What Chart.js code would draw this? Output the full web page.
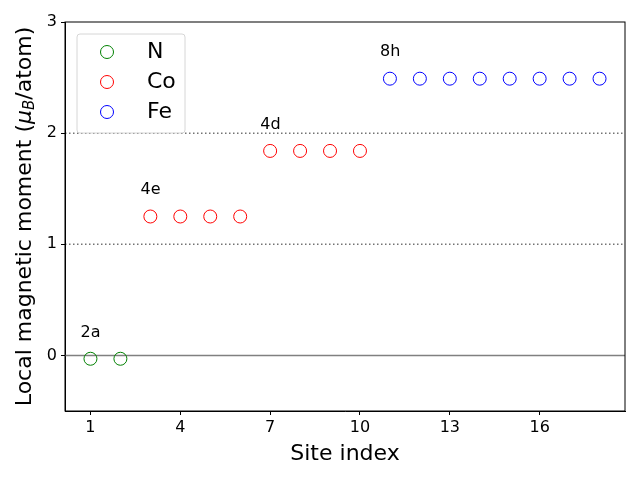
<!DOCTYPE html>
<html lang="en">
<head>
    <meta charset="UTF-8">
    <title>Local magnetic moment</title>
    <script src="https://cdn.jsdelivr.net/npm/chart.js@4.4.0/dist/chart.umd.min.js"></script>
    <style>
        body { margin: 0; background: #fff; }
    </style>
</head>
<body>
    <canvas id="chart" width="640" height="480"></canvas>
    <script>
        // sites and moments
        const nSites = [1, 2];
        const nMoments = [-0.03, -0.03];
        const coSites = [3, 4, 5, 6, 7, 8, 9, 10];
        const coMoments = [1.25, 1.25, 1.25, 1.25, 1.84, 1.84, 1.84, 1.84];
        const feSites = [11, 12, 13, 14, 15, 16, 17, 18];
        const feMoments = [2.49, 2.49, 2.49, 2.49, 2.49, 2.49, 2.49, 2.49];

        const xTicks = [1, 4, 7, 10, 13, 16];
        const yTicks = [0, 1, 2, 3];

        // wyckoff labels (left/bottom corner in data units)
        const siteLabels = ['2a', '4e', '4d', '8h'];
        const siteLabelX = [0.67, 2.67, 6.67, 10.67];
        const siteLabelY = [0.17, 1.45, 2.04, 2.69];

        const dottedLines = [1, 2];
        const solidLines = [0];

        const font = "'DejaVu Sans', sans-serif";

        function pts(xs, ys) {
            return xs.map((x, i) => ({ x: x, y: ys[i] }));
        }

        function ds(label, xs, ys, color) {
            return {
                label: label,
                data: pts(xs, ys),
                borderColor: color,
                backgroundColor: 'rgba(0,0,0,0)',
                pointRadius: 6.5,
                pointBorderWidth: 1,
                showLine: false
            };
        }

        const extras = {
            id: 'extras',
            beforeDatasetsDraw(chart) {
                const c = chart.ctx, a = chart.chartArea;
                const ys = chart.scales.y;
                c.save();
                c.lineWidth = 1.5;
                c.strokeStyle = 'rgba(0,0,0,0.55)';
                c.setLineDash([1.5, 2.5]);
                dottedLines.forEach(v => {
                    const y = ys.getPixelForValue(v);
                    c.beginPath(); c.moveTo(a.left, y); c.lineTo(a.right, y); c.stroke();
                });
                c.setLineDash([]);
                c.strokeStyle = 'gray';
                solidLines.forEach(v => {
                    const y = ys.getPixelForValue(v);
                    c.beginPath(); c.moveTo(a.left, y); c.lineTo(a.right, y); c.stroke();
                });
                c.restore();
            },
            afterDraw(chart) {
                const c = chart.ctx, a = chart.chartArea;
                const xs = chart.scales.x, ys = chart.scales.y;
                c.save();
                // frame
                c.strokeStyle = '#000';
                c.lineWidth = 1;
                c.strokeRect(a.left, a.top, a.right - a.left, a.bottom - a.top);

                // site labels
                c.fillStyle = '#000';
                c.font = '16px ' + font;
                c.textAlign = 'left';
                c.textBaseline = 'alphabetic';
                siteLabels.forEach((t, i) => {
                    c.fillText(t, xs.getPixelForValue(siteLabelX[i]), ys.getPixelForValue(siteLabelY[i]));
                });

                // x title
                c.font = '22px ' + font;
                c.textAlign = 'center';
                c.textBaseline = 'middle';
                c.fillText('Site index', (a.left + a.right) / 2, 454);

                // y title with subscript
                c.translate(25, (a.top + a.bottom) / 2);
                c.rotate(-Math.PI / 2);
                const p1 = 'Local magnetic moment (', p2 = 'μ', p3 = 'B', p4 = '/atom)';
                c.font = '22px ' + font;
                const w1 = c.measureText(p1).width;
                c.font = 'italic 22px ' + font;
                const w2 = c.measureText(p2).width;
                c.font = 'italic 15px ' + font;
                const w3 = c.measureText(p3).width;
                c.font = '22px ' + font;
                const w4 = c.measureText(p4).width;
                let x = -(w1 + w2 + w3 + w4) / 2;
                c.textAlign = 'left';
                c.textBaseline = 'middle';
                c.fillText(p1, x, 0); x += w1;
                c.font = 'italic 22px ' + font;
                c.fillText(p2, x, 0); x += w2;
                c.font = 'italic 15px ' + font;
                c.fillText(p3, x, 5); x += w3;
                c.font = '22px ' + font;
                c.fillText(p4, x, 0);
                c.restore();

                // legend
                c.save();
                const bx = 77, by = 34, bw = 108, bh = 99;
                c.fillStyle = 'rgba(255,255,255,0.8)';
                c.strokeStyle = '#d6d6d6';
                c.lineWidth = 1;
                c.beginPath();
                c.roundRect(bx, by, bw, bh, 3);
                c.fill(); c.stroke();
                c.font = '22px ' + font;
                c.textAlign = 'left';
                c.textBaseline = 'middle';
                chart.data.datasets.forEach((d, i) => {
                    const yy = 52 + i * 30;
                    c.strokeStyle = d.borderColor;
                    c.beginPath();
                    c.arc(107, yy, 6.5, 0, Math.PI * 2);
                    c.stroke();
                    c.fillStyle = '#000';
                    c.fillText(d.label, 147, yy);
                });
                c.restore();
            }
        };

        new Chart(document.getElementById('chart'), {
            type: 'scatter',
            data: {
                datasets: [
                    ds('N', nSites, nMoments, 'green'),
                    ds('Co', coSites, coMoments, 'red'),
                    ds('Fe', feSites, feMoments, 'blue')
                ]
            },
            options: {
                responsive: false,
                animation: false,
                layout: { padding: { top: 22, right: 15, left: 0, bottom: 0 } },
                plugins: { legend: { display: false }, tooltip: { enabled: false } },
                scales: {
                    x: {
                        type: 'linear',
                        min: 0.15,
                        max: 18.85,
                        afterBuildTicks: s => { s.ticks = xTicks.map(v => ({ value: v })); },
                        afterFit: s => { s.height = 69; },
                        grid: { drawOnChartArea: false, tickLength: 4, tickColor: '#000' },
                        border: { color: '#000' },
                        ticks: { color: '#000', font: { family: font, size: 16 }, padding: 3, maxRotation: 0 }
                    },
                    y: {
                        min: -0.5,
                        max: 3,
                        afterBuildTicks: s => { s.ticks = yTicks.map(v => ({ value: v })); },
                        afterFit: s => { s.width = 65; },
                        grid: { drawOnChartArea: false, tickLength: 4, tickColor: '#000' },
                        border: { color: '#000' },
                        ticks: { color: '#000', font: { family: font, size: 16 }, padding: 4 }
                    }
                }
            },
            plugins: [extras]
        });
    </script>
</body>
</html>
